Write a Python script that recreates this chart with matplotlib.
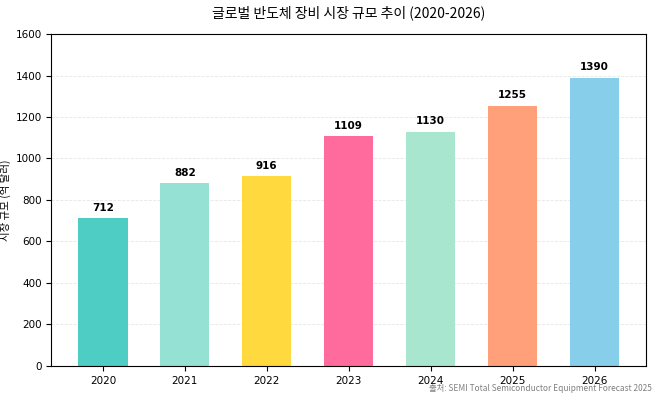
import matplotlib.pyplot as plt
import numpy as np

plt.rcParams['font.family'] = ['DejaVu Sans', 'Noto Sans CJK KR']

years = ['2020', '2021', '2022', '2023', '2024', '2025', '2026']
market_size = [712, 882, 916, 1109, 1130, 1255, 1390]
bar_colors = ['#4ECDC4', '#95E1D3', '#FFD93D', '#FF6B9D',
              '#A8E6CF', '#FFA07A', '#87CEEB']

fig, ax = plt.subplots(figsize=(6.58, 3.96), dpi=100)
fig.subplots_adjust(left=0.078, right=0.982, top=0.914, bottom=0.076)

x = np.arange(len(years))
bars = ax.bar(x, market_size, width=0.6, color=bar_colors)

# value labels above each bar
for bar, val in zip(bars, market_size):
    ax.text(bar.get_x() + bar.get_width() / 2, val + 25, str(val),
            ha='center', va='bottom', fontsize=7.5, fontweight='bold')

ax.set_xticks(x)
ax.set_xticklabels(years)
ax.set_ylim(0, 1600)
ax.set_yticks(np.arange(0, 1601, 200))
ax.tick_params(labelsize=7.5)
ax.set_ylabel('시장 규모 (억 달러)', fontsize=7.5, labelpad=3,
              family=['Noto Sans CJK KR', 'DejaVu Sans'])
ax.set_title('글로벌 반도체 장비 시장 규모 추이 (2020-2026)', fontsize=10,
             family=['Noto Sans CJK KR', 'DejaVu Sans'], pad=12)
ax.grid(axis='y', alpha=0.3, linestyle='--', linewidth=0.6)
ax.set_axisbelow(True)

fig.text(0.991, 0.008, '출처: SEMI Total Semiconductor Equipment Forecast 2025',
         ha='right', va='bottom', fontsize=6, color='gray',
         family=['Noto Sans CJK KR', 'DejaVu Sans'])

plt.savefig('out.png')
